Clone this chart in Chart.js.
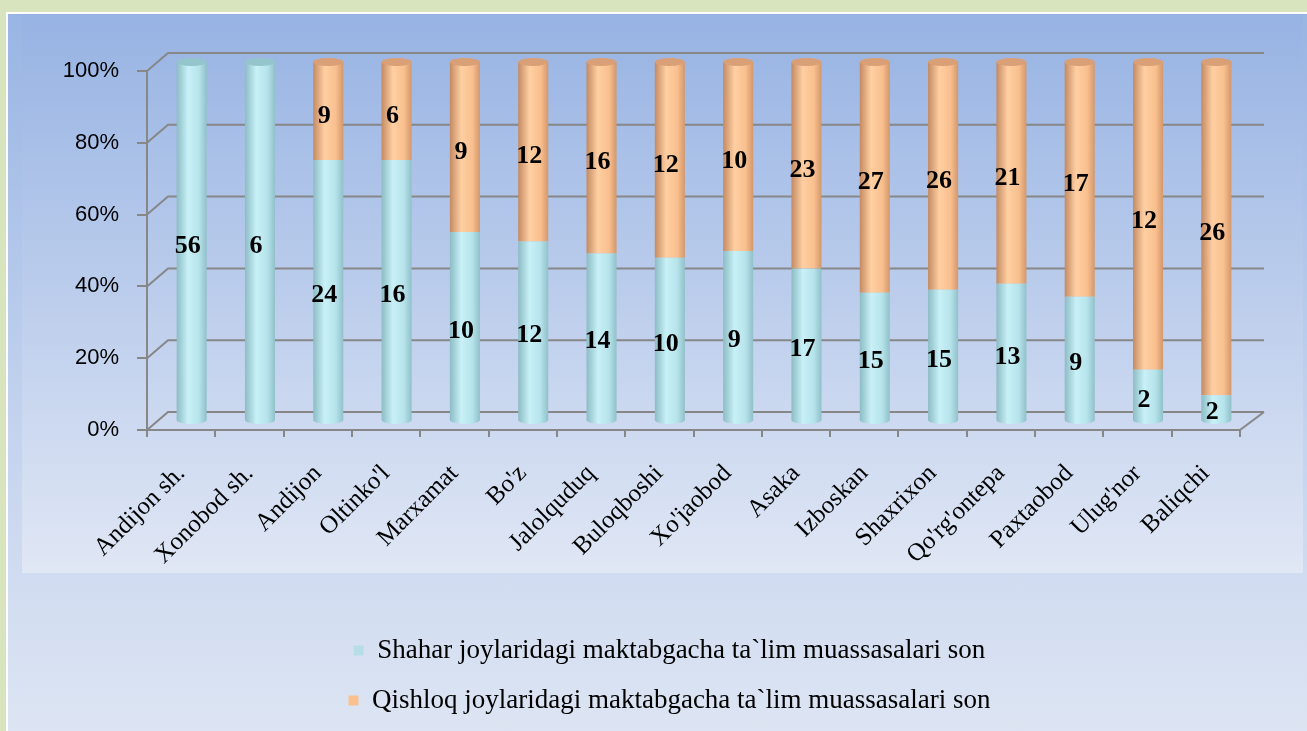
<!DOCTYPE html>
<html><head><meta charset="utf-8">
<script src="https://cdn.jsdelivr.net/npm/chart.js@4.4.1/dist/chart.umd.min.js"></script>
<style>
html,body{margin:0;padding:0;}
body{width:1307px;height:731px;background:#d7e4bd;position:relative;overflow:hidden;}
#panel{position:absolute;left:6px;top:12px;width:1301px;height:719px;border-left:2px solid #fff;border-top:2px solid #fff;background:linear-gradient(to bottom,#99b5e3 0%,#c2d2ee 55%,#dde5f3 100%);}
#c{position:absolute;left:0;top:0;}
</style></head>
<body>
<div id="panel"></div>
<canvas id="c" width="1307" height="731"></canvas>
<script>
const categories = ["Andijon sh.","Xonobod sh.","Andijon","Oltinko'l","Marxamat","Bo'z","Jalolquduq","Buloqboshi","Xo'jaobod","Asaka","Izboskan","Shaxrixon","Qo'rg'ontepa","Paxtaobod","Ulug'nor","Baliqchi"];
const urbanCounts = [56,6,24,16,10,12,14,10,9,17,15,15,13,9,2,2];
const ruralCounts = [0,0,9,6,9,12,16,12,10,23,27,26,21,17,12,26];
const seriesNames = ["Shahar joylaridagi maktabgacha ta`lim muassasalari son","Qishloq joylaridagi maktabgacha ta`lim muassasalari son"];
const yTickValues = [0,20,40,60,80,100];

const totals = categories.map((_, i) => urbanCounts[i] + ruralCounts[i]);
const urbanPct = urbanCounts.map((v, i) => v / totals[i] * 100);
const ruralPct = ruralCounts.map((v, i) => v / totals[i] * 100);
const counts = [urbanCounts, ruralCounts];

const GRID = '#878787';
const DX = 21, DY = -18, BDX = 10.5, BDY = -9, RY = 4;
const BAR_PCT = 0.44;
const blueStops = ['#8cbcc4','#c8f0f7','#b6e3eb','#90c0c8'];
const orangeStops = ['#c48a62','#ffcfa2','#f9bf8e','#d2986c'];
const capColors = ['#94c5cd','#d99f76'];
const legendColors = ['#b7dee8','#fac090'];

function cylGrad(c, stops) {
  const chart = c.chart, xs = chart.scales.x;
  if (!xs || c.dataIndex == null || !chart.chartArea) return stops[2];
  const x = xs.getPixelForValue(c.dataIndex);
  const w = (xs.width / categories.length) * BAR_PCT;
  return segGrad(chart.ctx, x, w, stops);
}
function segGrad(ctx, x, w, stops) {
  const g = ctx.createLinearGradient(x - w / 2, 0, x + w / 2, 0);
  g.addColorStop(0, stops[0]); g.addColorStop(0.38, stops[1]);
  g.addColorStop(0.75, stops[2]); g.addColorStop(1, stops[3]);
  return g;
}

const threeD = {
  id: 'threeD',
  beforeDraw(chart) {
    const ctx = chart.ctx;
    const g = ctx.createLinearGradient(0, 14, 0, 573);
    g.addColorStop(0, '#97b3e3'); g.addColorStop(1, '#e0e7f5');
    ctx.save(); ctx.fillStyle = g; ctx.fillRect(22, 14, 1281, 559); ctx.restore();
  },
  afterLayout(chart) {
    const lg = chart.legend;
    if (lg) { lg.left -= 24; lg.right -= 24; }
  },
  beforeDatasetsDraw(chart) {
    const { ctx, chartArea: a, scales: { y } } = chart;
    ctx.save();
    ctx.strokeStyle = GRID; ctx.lineWidth = 2;
    yTickValues.forEach(v => {
      const py = y.getPixelForValue(v);
      ctx.beginPath(); ctx.moveTo(a.left, py); ctx.lineTo(a.left + DX, py + DY); ctx.lineTo(a.right + DX + 3, py + DY); ctx.stroke();
    });
    ctx.beginPath(); ctx.moveTo(a.right, a.bottom); ctx.lineTo(a.right + DX + 3, a.bottom + DY); ctx.stroke();
    ctx.restore();
    ctx.save(); ctx.translate(BDX, BDY);
  },
  afterDatasetsDraw(chart) {
    const ctx = chart.ctx;
    const metas = [chart.getDatasetMeta(0), chart.getDatasetMeta(1)];
    const stopsArr = [blueStops, orangeStops];
    categories.forEach((_, i) => {
      let lowest = -1, highest = -1;
      for (let d = 0; d < 2; d++) { if (counts[d][i] > 0) { if (lowest < 0) lowest = d; highest = d; } }
      if (lowest >= 0) {
        const p = metas[lowest].data[i].getProps(['x', 'y', 'base', 'width'], true);
        ctx.beginPath(); ctx.ellipse(p.x, p.base, p.width / 2, RY, 0, 0, Math.PI);
        ctx.fillStyle = segGrad(ctx, p.x, p.width, stopsArr[lowest]); ctx.fill();
      }
      if (highest >= 0) {
        const p = metas[highest].data[i].getProps(['x', 'y', 'base', 'width'], true);
        ctx.beginPath(); ctx.ellipse(p.x, p.y, p.width / 2, RY, 0, 0, 2 * Math.PI);
        ctx.fillStyle = capColors[highest]; ctx.fill();
      }
    });
    ctx.fillStyle = '#000';
    ctx.font = 'bold 26px "Liberation Serif", "Times New Roman", serif';
    ctx.textAlign = 'center'; ctx.textBaseline = 'middle';
    for (let d = 0; d < 2; d++) {
      metas[d].data.forEach((el, i) => {
        if (counts[d][i] <= 0) return;
        const p = el.getProps(['x', 'y', 'base'], true);
        ctx.fillText(String(counts[d][i]), p.x - 4, (p.y + p.base) / 2 + 5);
      });
    }
    ctx.restore();
  }
};

new Chart(document.getElementById('c'), {
  type: 'bar',
  data: {
    labels: categories,
    datasets: [
      { label: seriesNames[0], data: urbanPct, backgroundColor: c => cylGrad(c, blueStops), borderWidth: 0, barPercentage: BAR_PCT, categoryPercentage: 1 },
      { label: seriesNames[1], data: ruralPct, backgroundColor: c => cylGrad(c, orangeStops), borderWidth: 0, barPercentage: BAR_PCT, categoryPercentage: 1 }
    ]
  },
  options: {
    responsive: false, animation: false, devicePixelRatio: 1,
    layout: { padding: { top: 71, right: 67, bottom: 7, left: 0 } },
    plugins: {
      tooltip: { enabled: false },
      legend: {
        position: 'bottom', fullSize: false,
        labels: {
          boxWidth: 10, boxHeight: 10, padding: 23, color: '#000',
          font: { family: '"Liberation Serif", "Times New Roman", serif', size: 27 },
          generateLabels: () => seriesNames.map((n, i) => ({ text: n, fillStyle: legendColors[i], strokeStyle: legendColors[i], lineWidth: 0, datasetIndex: i, hidden: false }))
        }
      }
    },
    scales: {
      x: {
        stacked: true,
        grid: { offset: true, drawOnChartArea: false, drawTicks: true, tickLength: 7, color: GRID, lineWidth: 2 },
        border: { display: true, color: GRID, width: 2 },
        ticks: { color: '#000', minRotation: 45, maxRotation: 45, autoSkip: false, padding: 22, font: { family: '"Liberation Serif", "Times New Roman", serif', size: 25 } },
        afterFit(s) { s.height = 184; }
      },
      y: {
        stacked: true, min: 0, max: 100,
        afterBuildTicks(s) { s.ticks = yTickValues.map(v => ({ value: v })); },
        grid: { drawOnChartArea: false, drawTicks: true, tickLength: 10, color: GRID, lineWidth: 2 },
        border: { display: true, color: GRID, width: 2 },
        ticks: { color: '#000', padding: 18, callback: v => v + '%', font: { family: '"Liberation Sans", Arial, sans-serif', size: 22 } },
        afterFit(s) { s.width = 147; }
      }
    }
  },
  plugins: [threeD]
});
</script>
</body></html>
